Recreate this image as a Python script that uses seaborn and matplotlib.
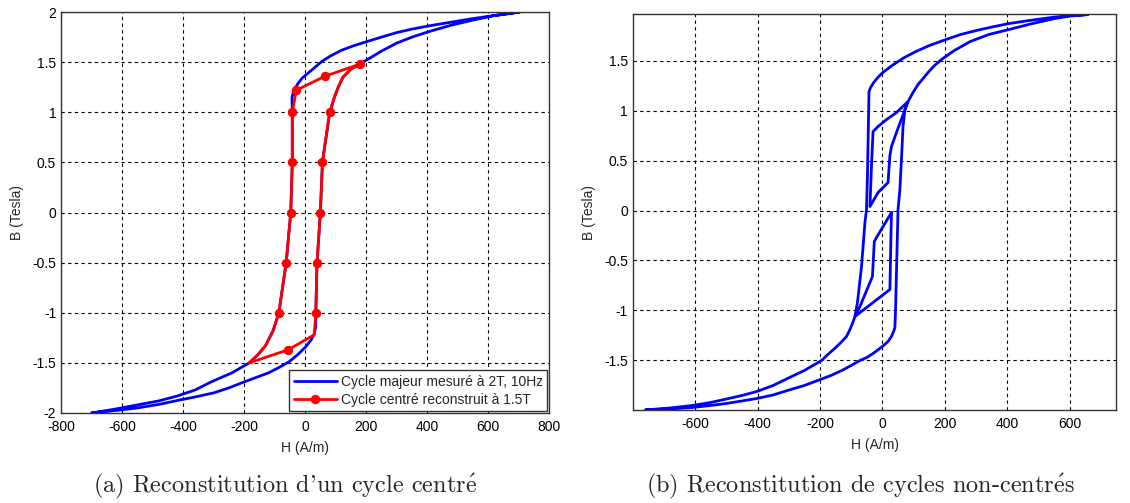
import numpy as np
import pandas as pd
import matplotlib
matplotlib.use('Agg')
import matplotlib.pyplot as plt
from matplotlib.ticker import FormatStrFormatter
import seaborn as sns

# (a) cycle majeur 2T, 10Hz : branche descendante et montante
maj_a_desc_H = [703, 620, 550, 480, 411, 350, 300, 250, 202, 160, 120, 85, 56, 25, -10, -25, -36, -43,
                -42, -42, -47, -62, -86, -105, -130, -155, -183, -240, -308, -360, -418, -480, -550, -620, -700]
maj_a_desc_B = [2.0, 1.965, 1.935, 1.90, 1.865, 1.83, 1.795, 1.75, 1.705, 1.665, 1.62, 1.565, 1.51, 1.43, 1.34, 1.28, 1.22, 1.15,
                1.0, 0.5, 0.0, -0.5, -1.0, -1.18, -1.33, -1.42, -1.5, -1.60, -1.69, -1.77, -1.83, -1.88, -1.92, -1.96, -2.0]
maj_a_asc_H = [-700, -620, -550, -480, -418, -360, -300, -250, -208, -160, -120, -85, -53, -25, 2, 20, 30, 35,
               35, 39, 50, 57, 80, 96, 110, 124, 150, 179, 201, 250, 300, 350, 411, 480, 550, 620, 703]
maj_a_asc_B = [-2.0, -1.975, -1.95, -1.915, -1.875, -1.84, -1.80, -1.75, -1.70, -1.645, -1.60, -1.545, -1.49, -1.42, -1.34, -1.27, -1.21, -1.14,
               -1.02, -0.51, 0.0, 0.51, 0.98, 1.15, 1.26, 1.35, 1.43, 1.48, 1.52, 1.61, 1.69, 1.75, 1.81, 1.87, 1.92, 1.965, 2.0]

# (a) cycle centre reconstruit a 1.5T
rec_H = [179, 65, -29, -42, -42, -47, -62, -86, -105, -130, -155, -183, -56, 30, 35, 39, 50, 57, 80, 96, 110, 124, 150, 179]
rec_B = [1.48, 1.36, 1.22, 1.0, 0.5, 0.0, -0.5, -1.0, -1.18, -1.33, -1.42, -1.5, -1.37, -1.22, -1.0, -0.5, 0.0, 0.5, 1.0, 1.15, 1.26, 1.35, 1.43, 1.48]
rec_markers = [0, 1, 2, 3, 4, 5, 6, 7, 12, 14, 15, 16, 17, 18]

# (b) cycle majeur + cycles non-centres
maj_b_desc_H = [658, 600, 552, 480, 405, 350, 300, 250, 203, 150, 107, 70, 35, 1, -15, -28, -38, -43,
                -48, -51, -56, -67, -80, -88, -96, -104, -115, -133, -153, -175, -195, -250, -304, -350, -402, -450, -499, -550, -608, -680, -760]
maj_b_desc_B = [1.96, 1.95, 1.935, 1.905, 1.87, 1.835, 1.80, 1.76, 1.71, 1.65, 1.59, 1.53, 1.46, 1.38, 1.33, 1.28, 1.23, 1.19,
                0.34, 0.01, -0.12, -0.56, -0.92, -1.06, -1.13, -1.19, -1.26, -1.32, -1.38, -1.44, -1.5, -1.60, -1.68, -1.75, -1.81, -1.85, -1.885, -1.92, -1.95, -1.975, -1.995]
maj_b_asc_H = [-760, -680, -608, -550, -499, -450, -402, -350, -304, -250, -207, -165, -130, -100, -72, -50, -30, 0, 18, 29, 37, 40,
               42, 45, 50, 56, 61, 66, 72, 82, 98, 114, 130, 146, 167, 189, 230, 281, 340, 405, 480, 552, 600, 658]
maj_b_asc_B = [-1.995, -1.985, -1.97, -1.95, -1.93, -1.905, -1.88, -1.845, -1.80, -1.75, -1.70, -1.65, -1.60, -1.55, -1.50, -1.47, -1.43, -1.36, -1.31, -1.26, -1.20, -1.17,
               -1.0, -0.62, 0.01, 0.21, 0.51, 0.84, 1.01, 1.09, 1.18, 1.26, 1.32, 1.38, 1.45, 1.51, 1.60, 1.69, 1.76, 1.81, 1.87, 1.92, 1.945, 1.96]
min1_H = [82, 45, 13, -14, -30, -35, -40, -14, 18, 24, 29, 45, 82]
min1_B = [1.09, 0.98, 0.91, 0.84, 0.79, 0.45, 0.04, 0.18, 0.28, 0.55, 0.64, 0.78, 1.09]
min2_H = [29, 27, 24, -88, -72, -32, -26, -19, 29]
min2_B = [-0.02, -0.30, -0.79, -1.06, -0.96, -0.66, -0.31, -0.27, -0.02]

sns.set_style('white')
plt.rcParams['font.family'] = ['Liberation Sans', 'DejaVu Sans']
plt.rcParams['axes.unicode_minus'] = False
plt.rcParams['mathtext.fontset'] = 'cm'

blue = (0, 0, 1)
red = (1, 0, 0)

fig = plt.figure(figsize=(11.3, 5.03), dpi=100)
ax1 = fig.add_axes([0.054, 0.179, 0.432, 0.797])
ax2 = fig.add_axes([0.560, 0.185, 0.428, 0.787])


def style_axes(ax):
    ax.grid(True, color='k', linestyle=(0, (3, 3)), linewidth=0.8)
    for s in ax.spines.values():
        s.set_color('#333333')
        s.set_linewidth(1.0)
    ax.tick_params(direction='in', length=4, labelsize=10, colors='k')
    ax.tick_params(axis='x', pad=5)
    ax.tick_params(axis='y', pad=3.5)
    ax.xaxis.set_major_formatter(FormatStrFormatter('%g'))
    ax.yaxis.set_major_formatter(FormatStrFormatter('%g'))
    ax.set_xlabel('H (A/m)', fontsize=10, labelpad=5)
    ax.set_ylabel('B (Tesla)', fontsize=10, labelpad=6)


# (a)
maj_a = pd.DataFrame({'H': maj_a_desc_H + maj_a_asc_H, 'B': maj_a_desc_B + maj_a_asc_B})
sns.lineplot(data=maj_a, x='H', y='B', sort=False, estimator=None, color=blue,
             linewidth=2, ax=ax1, label='Cycle majeur mesuré à 2T, 10Hz')
rec = pd.DataFrame({'H': rec_H, 'B': rec_B})
sns.lineplot(data=rec, x='H', y='B', sort=False, estimator=None, color=red,
             linewidth=2, marker='o', markersize=6, markeredgecolor=red,
             markevery=rec_markers, ax=ax1, label='Cycle centré reconstruit à 1.5T')
ax1.set_xlim(-800, 800)
ax1.set_ylim(-2, 2)
ax1.set_xticks(np.arange(-800, 801, 200))
ax1.set_yticks(np.arange(-2, 2.01, 0.5))
style_axes(ax1)
leg = ax1.legend(loc='lower right', fontsize=10, frameon=True, fancybox=False,
                 edgecolor='#333333', borderaxespad=0.15, handlelength=3.1,
                 borderpad=0.3, labelspacing=0.3, handletextpad=0.3)
leg.get_frame().set_linewidth(1.0)
leg.get_frame().set_alpha(1)

# (b)
maj_b = pd.DataFrame({'H': maj_b_desc_H + maj_b_asc_H, 'B': maj_b_desc_B + maj_b_asc_B})
for df in [maj_b, pd.DataFrame({'H': min1_H, 'B': min1_B}), pd.DataFrame({'H': min2_H, 'B': min2_B})]:
    sns.lineplot(data=df, x='H', y='B', sort=False, estimator=None, color=blue,
                 linewidth=2, ax=ax2, legend=False)
ax2.set_xlim(-800, 750)
ax2.set_ylim(-1.995, 1.965)
ax2.set_xticks(np.arange(-600, 601, 200))
ax2.set_yticks(np.arange(-1.5, 1.51, 0.5))
style_axes(ax2)

cap = ['cmr10', 'DejaVu Serif']
fig.text(0.252, 0.032, "(a) Reconstitution d'un cycle centr$\\acute{\\mathrm{e}}$",
         ha='center', va='center', fontsize=17.5, family=cap)
fig.text(0.761, 0.032, "(b) Reconstitution de cycles non-centr$\\acute{\\mathrm{e}}$s",
         ha='center', va='center', fontsize=17.5, family=cap)

fig.savefig('out.png', dpi=100)
